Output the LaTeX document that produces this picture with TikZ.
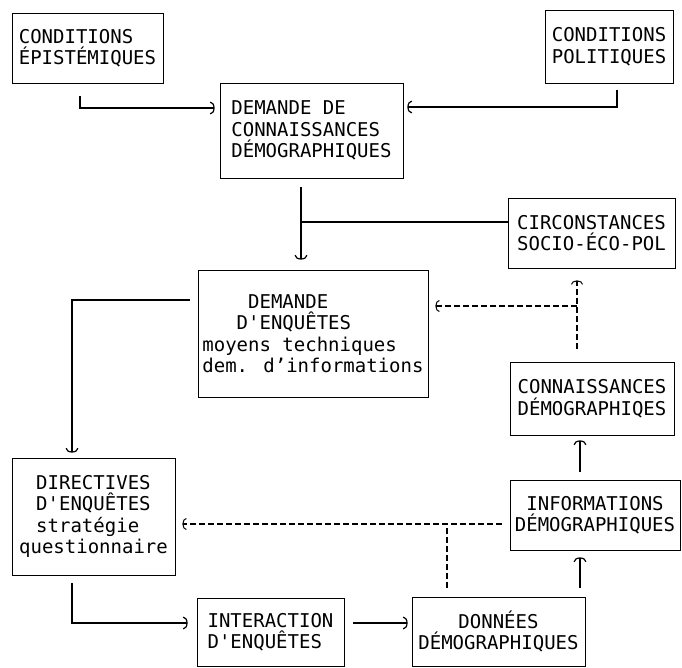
\documentclass[tikz,border=0pt]{standalone}
\usepackage{fontspec}
\newfontfamily\machine{DejaVu Sans Mono}
\usetikzlibrary{arrows.meta}

\begin{document}
\begin{tikzpicture}[x=1pt,y=-1pt,
	boite/.style={draw, line width=0.7pt, align=left, inner sep=2pt, font=\machine\fontsize{19}{21.5}\selectfont},
	fleche/.style={line width=1.9pt, -{Arc Barb[length=4.5pt,width=13pt,line width=1.2pt]}},
	trait/.style={line width=1.9pt},
	tirets/.style={line width=1.2pt, dash pattern=on 6pt off 3pt},
	fleche tirets/.style={tirets, -{Arc Barb[length=4pt,width=12pt,line width=1pt]}}]
	\useasboundingbox (0,0) rectangle (682,668);

	% Boites
	\node[boite, minimum width=151pt, minimum height=70pt] (condepi) at (87.5,48) {CONDITIONS\\ÉPISTÉMIQUES};
	\node[boite, minimum width=128pt, minimum height=73pt] (condpol) at (609,46.5) {CONDITIONS\\POLITIQUES};
	\node[boite, minimum width=183pt, minimum height=95pt] (demconn) at (311.5,130.5) {DEMANDE DE\\CONNAISSANCES\\DÉMOGRAPHIQUES};
	\node[boite, minimum width=167pt, minimum height=70pt] (circ) at (591.5,233) {CIRCONSTANCES\\SOCIO-ÉCO-POL};
	\node[boite, minimum width=230pt, minimum height=127pt] (demenq) at (313,333.5) {\phantom{0000}DEMANDE\\\phantom{000}D'ENQUÊTES\\moyens techniques\\dem. d’informations};
	\node[boite, minimum width=164pt, minimum height=73pt] (conn) at (592,398.5) {CONNAISSANCES\\DÉMOGRAPHIQES};
	\node[boite, minimum width=163pt, minimum height=117pt] (dir) at (93.5,516.5) {\hspace*{0.9em}DIRECTIVES\\\hspace*{0.9em}D'ENQUÊTES\\\hspace*{0.9em}stratégie\\questionnaire};
	\node[boite, align=center, minimum width=170pt, minimum height=70pt] (info) at (595,515) {INFORMATIONS\\DÉMOGRAPHIQUES};
	\node[boite, minimum width=147pt, minimum height=68pt] (inter) at (270.5,632) {INTERACTION\\D'ENQUÊTES};
	\node[boite, align=center, minimum width=173pt, minimum height=69pt] (donnees) at (498.5,631.5) {DONNÉES\\DÉMOGRAPHIQUES};

	% Points de passage
	\coordinate (epibas) at (80,96);
	\coordinate (epicoin) at (80,108);
	\coordinate (polbas) at (617,90);
	\coordinate (polcoin) at (617,107);
	\coordinate (demsortie) at (301,187);
	\coordinate (circjonction) at (301,222);
	\coordinate (enqcoin) at (72,300);
	\coordinate (dircoin) at (72,623);
	\coordinate (colonne) at (580,0);
	\coordinate (tiret1) at (577,306);
	\coordinate (tiret2) at (447,524);

	% Fleches pleines
	\draw[fleche, shorten >=5pt] (epibas) -- (epicoin) -- (epicoin -| demconn.west);
	\draw[fleche, shorten >=4pt] (polbas) -- (polcoin) -- (polcoin -| demconn.east);
	\draw[fleche, shorten >=10pt] (demsortie) -- (demsortie |- demenq.north);
	\draw[trait] (circjonction -| circ.west) -- (circjonction);
	\draw[fleche, shorten <=8pt, shorten >=5pt] (enqcoin -| demenq.west) -- (enqcoin) -- (enqcoin |- dir.north);
	\draw[fleche, shorten <=8pt, shorten >=9pt] (dircoin |- dir.south) -- (dircoin) -- (dircoin -| inter.west);
	\draw[fleche, shorten <=9pt, shorten >=4pt] (inter.east |- dircoin) -- (donnees.west |- dircoin);
	\draw[fleche, line width=2.4pt, shorten <=9pt, shorten >=7pt] (donnees.north -| colonne) -- (info.south -| colonne);
	\draw[fleche, line width=2.4pt, shorten <=8pt, shorten >=5pt] (info.north -| colonne) -- (conn.south -| colonne);

	% Fleches en tirets
	\draw[fleche tirets, shorten <=13pt, shorten >=12pt] (conn.north -| tiret1) -- (circ.south -| tiret1);
	\draw[fleche tirets, shorten >=7pt] (tiret1) -- (tiret1 -| demenq.east);
	\draw[fleche tirets, shorten <=8pt, shorten >=7pt] (info.west |- tiret2) -- (dir.east |- tiret2);
	\draw[tirets, shorten <=9pt] (donnees.north -| tiret2) -- (tiret2);
\end{tikzpicture}
\end{document}
